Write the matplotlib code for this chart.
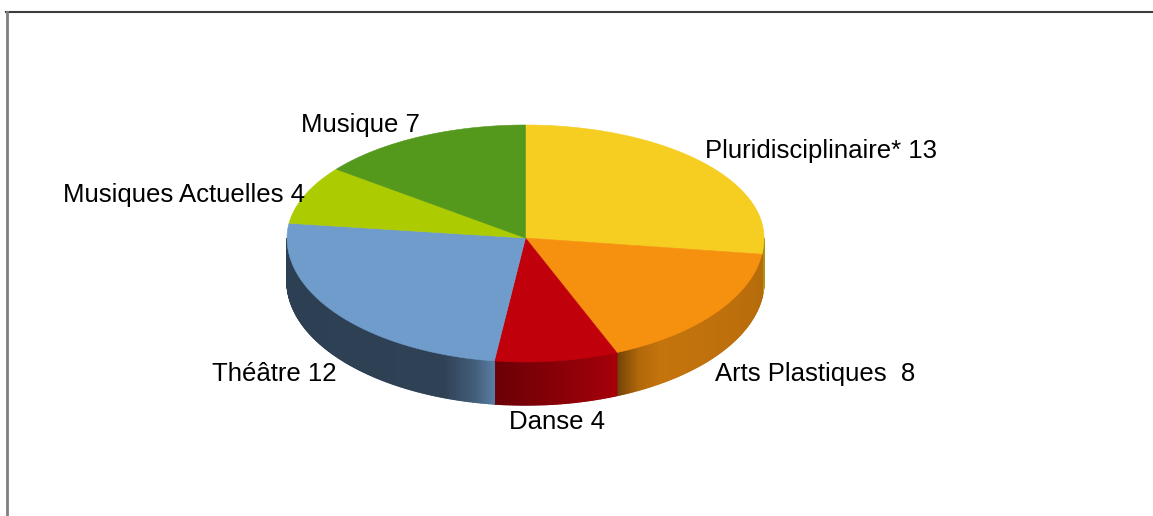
import numpy as np
import matplotlib
matplotlib.use("Agg")
import matplotlib.pyplot as plt
from matplotlib.patches import Polygon
from matplotlib.lines import Line2D

# data
categories = ["Pluridisciplinaire*", "Arts Plastiques ", "Danse", "Théâtre",
              "Musiques Actuelles", "Musique"]
values = [13, 8, 4, 12, 4, 7]

colors = ["#f6cd21", "#f6910f", "#c0000b", "#6f9ccb", "#accb00", "#54991c"]
# side wall shading, (fraction of visible span, factor)
side_shade = [
    [(0, 0.80), (1, 0.70)],
    [(0, 0.45), (0.1, 0.72), (0.2, 0.80), (1, 0.74)],
    [(0, 0.55), (1, 0.86)],
    [(0, 0.40), (0.85, 0.42), (0.95, 0.62), (1, 0.80)],
    None,
    None,
]

W, H = 1153, 516
cx, cy = 525.5, 238
rx, ry_back, ry_front = 238.5, 113, 124
depth = 43

fig = plt.figure(figsize=(W / 100, H / 100), dpi=100)
ax = fig.add_axes([0, 0, 1, 1])
ax.set_xlim(0, W)
ax.set_ylim(H, 0)
ax.axis("off")


def ell(a):
    a = np.radians(np.asarray(a, dtype=float))
    s = np.sin(a)
    ry = np.where(s > 0, ry_back, ry_front)
    return cx + rx * np.cos(a), cy - ry * s


total = sum(values)
bounds = 90 - 360 * np.concatenate([[0], np.cumsum(values)]) / total


def darker(c, f):
    r, g, b = matplotlib.colors.to_rgb(c)
    return (r * f, g * f, b * f)


# side walls (front half only)
for i in range(len(values)):
    hi, lo = bounds[i], bounds[i + 1]
    a0, a1 = max(lo, -180), min(hi, 0)
    if a1 <= a0 or side_shade[i] is None:
        continue
    n = int((a1 - a0) * 3) + 2
    angs = np.linspace(a0, a1, n)
    us, fs = zip(*side_shade[i])
    for j in range(n - 1):
        u = ((angs[j] + angs[j + 1]) / 2 - a0) / (a1 - a0)
        f = np.interp(u, us, fs)
        xa, ya = ell(angs[j:j + 2])
        pts = [(xa[0], ya[0]), (xa[1], ya[1]),
               (xa[1], ya[1] + depth), (xa[0], ya[0] + depth)]
        col = darker(colors[i], f)
        ax.add_patch(Polygon(pts, closed=True, fc=col, ec=col, lw=1.0))

# top faces
for i in range(len(values)):
    hi, lo = bounds[i], bounds[i + 1]
    angs = np.linspace(hi, lo, int((hi - lo) * 2) + 2)
    xs, ys = ell(angs)
    pts = [(cx, cy)] + list(zip(xs, ys))
    ax.add_patch(Polygon(pts, closed=True, fc=colors[i], ec=colors[i], lw=0.4))

# labels
for i in range(len(values)):
    mid = (bounds[i] + bounds[i + 1]) / 2
    c, s = np.cos(np.radians(mid)), np.sin(np.radians(mid))
    px, py = ell(mid)
    px, py = float(px), float(py)
    if s < 0:
        py += depth + 6
    ha = "left" if c > 0.3 else ("right" if c < -0.3 else "center")
    va = "bottom" if s > 0.5 else ("top" if s < -0.5 else "center")
    ax.text(px, py, f"{categories[i]} {values[i]}", ha=ha, va=va,
            fontsize=18.5, family="Liberation Sans", color="black")

# frame
fig.add_artist(Line2D([6 / W, 1152 / W], [1 - 12 / H] * 2,
                      transform=fig.transFigure, color="#3c3c3c", lw=1.5))
fig.add_artist(Line2D([6.5 / W] * 2, [1 - 12 / H, 0],
                      transform=fig.transFigure, color="#808080", lw=2))

fig.savefig("out.png", dpi=100)
